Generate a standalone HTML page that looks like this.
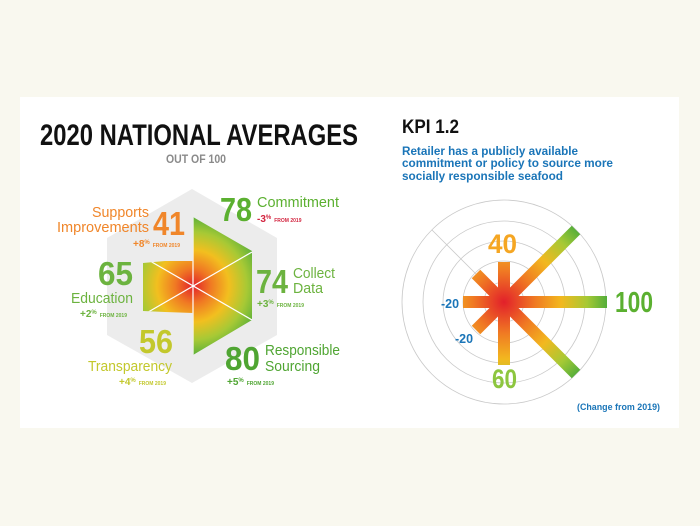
<!DOCTYPE html>
<html><head><meta charset="utf-8"><style>
html,body{margin:0;padding:0;background:#f9f8ef;}
svg{display:block;}
text{font-family:"Liberation Sans Narrow","Liberation Sans",sans-serif;font-weight:bold;}
.r{font-weight:normal;}
</style></head><body>
<svg width="700" height="526" viewBox="0 0 700 526" xmlns="http://www.w3.org/2000/svg">
<defs>
<radialGradient id="g1" cx="193" cy="286" r="72" gradientUnits="userSpaceOnUse">
<stop offset="0" stop-color="#e2202a"/>
<stop offset="0.25" stop-color="#f07a23"/>
<stop offset="0.5" stop-color="#f2bf1f"/>
<stop offset="0.75" stop-color="#a7c935"/>
<stop offset="1" stop-color="#4fac3a"/>
</radialGradient>
<radialGradient id="g2" cx="504" cy="302" r="104" gradientUnits="userSpaceOnUse">
<stop offset="0" stop-color="#e2202a"/>
<stop offset="0.3" stop-color="#f07a23"/>
<stop offset="0.55" stop-color="#f2b81f"/>
<stop offset="0.8" stop-color="#a6c935"/>
<stop offset="1" stop-color="#4fac3a"/>
</radialGradient>
<clipPath id="cp"><polygon points="193,217 252,251 252,320 193,355 193,313 165,312 143,311 143,263 165,261 193,261"/></clipPath>
</defs>
<rect x="20" y="97" width="659" height="331" fill="#fff"/>

<text x="40" y="145" font-size="30" textLength="318" lengthAdjust="spacingAndGlyphs" fill="#111">2020 NATIONAL AVERAGES</text>
<text x="166" y="163" font-size="12" textLength="60" lengthAdjust="spacingAndGlyphs" fill="#8a8a8a">OUT OF 100</text>
<polygon points="192,189 277,238 277,335 192,383 107,335 107,238" fill="#ececec"/>
<polygon points="193,217 252,251 252,320 193,355 193,313 165,312 143,311 143,263 165,261 193,261" fill="url(#g1)"/>
<g stroke="#fff" stroke-width="1.2" clip-path="url(#cp)">
<line x1="193" y1="217" x2="193" y2="355"/>
<line x1="252" y1="252" x2="138" y2="318"/>
<line x1="252" y1="320" x2="138" y2="254"/>
</g>

<text x="220" y="221" font-size="33" textLength="32" lengthAdjust="spacingAndGlyphs" fill="#5bb030">78</text>
<text class="r" x="257" y="207" font-size="15" textLength="82" lengthAdjust="spacingAndGlyphs" fill="#5bb030">Commitment</text>
<text x="257" y="222" font-size="10" fill="#d3243f">-3<tspan font-size="6" dy="-3">%</tspan><tspan font-size="5" dy="3" dx="3">FROM 2019</tspan></text>

<text x="153" y="235" font-size="33" textLength="32" lengthAdjust="spacingAndGlyphs" fill="#f0862a">41</text>
<text class="r" x="92" y="217" font-size="15" textLength="57" lengthAdjust="spacingAndGlyphs" fill="#f0862a">Supports</text>
<text class="r" x="57" y="232" font-size="15" textLength="92" lengthAdjust="spacingAndGlyphs" fill="#f0862a">Improvements</text>
<text x="133" y="247" font-size="10" fill="#f0862a">+8<tspan font-size="6" dy="-3">%</tspan><tspan font-size="5" dy="3" dx="3">FROM 2019</tspan></text>

<text x="98" y="285" font-size="33" textLength="35" lengthAdjust="spacingAndGlyphs" fill="#6cb33f">65</text>
<text class="r" x="71" y="303" font-size="15" textLength="62" lengthAdjust="spacingAndGlyphs" fill="#6cb33f">Education</text>
<text x="80" y="317" font-size="10" fill="#6cb33f">+2<tspan font-size="6" dy="-3">%</tspan><tspan font-size="5" dy="3" dx="3">FROM 2019</tspan></text>

<text x="256" y="293" font-size="33" textLength="32" lengthAdjust="spacingAndGlyphs" fill="#6cb33f">74</text>
<text class="r" x="293" y="278" font-size="15" textLength="42" lengthAdjust="spacingAndGlyphs" fill="#6cb33f">Collect</text>
<text class="r" x="293" y="293" font-size="15" textLength="30" lengthAdjust="spacingAndGlyphs" fill="#6cb33f">Data</text>
<text x="257" y="307" font-size="10" fill="#6cb33f">+3<tspan font-size="6" dy="-3">%</tspan><tspan font-size="5" dy="3" dx="3">FROM 2019</tspan></text>

<text x="139" y="353" font-size="33" textLength="34" lengthAdjust="spacingAndGlyphs" fill="#c3c82c">56</text>
<text class="r" x="88" y="371" font-size="15" textLength="84" lengthAdjust="spacingAndGlyphs" fill="#c3c82c">Transparency</text>
<text x="119" y="385" font-size="10" fill="#c3c82c">+4<tspan font-size="6" dy="-3">%</tspan><tspan font-size="5" dy="3" dx="3">FROM 2019</tspan></text>

<text x="225" y="370" font-size="33" textLength="35" lengthAdjust="spacingAndGlyphs" fill="#4fa532">80</text>
<text class="r" x="265" y="355" font-size="15" textLength="75" lengthAdjust="spacingAndGlyphs" fill="#4fa532">Responsible</text>
<text class="r" x="265" y="371" font-size="15" textLength="55" lengthAdjust="spacingAndGlyphs" fill="#4fa532">Sourcing</text>
<text x="227" y="385" font-size="10" fill="#4fa532">+5<tspan font-size="6" dy="-3">%</tspan><tspan font-size="5" dy="3" dx="3">FROM 2019</tspan></text>

<text x="402" y="133" font-size="19" textLength="57" lengthAdjust="spacingAndGlyphs" fill="#111">KPI 1.2</text>
<g font-size="12" fill="#1a75b8">
<text x="402" y="155" textLength="176" lengthAdjust="spacingAndGlyphs">Retailer has a publicly available</text>
<text x="402" y="167" textLength="211" lengthAdjust="spacingAndGlyphs">commitment or policy to source more</text>
<text x="402" y="180" textLength="161" lengthAdjust="spacingAndGlyphs">socially responsible seafood</text>
</g>
<g fill="none" stroke="#c9c9c9" stroke-width="0.8">
<circle cx="504" cy="302" r="102"/>
<circle cx="504" cy="302" r="81"/>
<circle cx="504" cy="302" r="61"/>
<circle cx="504" cy="302" r="41"/>
<circle cx="504" cy="302" r="20"/>
<line x1="504" y1="302" x2="432" y2="230"/>
</g>
<g stroke="url(#g2)" stroke-width="12">
<line x1="504" y1="302" x2="504" y2="262"/>
<line x1="504" y1="302" x2="504" y2="365"/>
<line x1="504" y1="302" x2="607" y2="302"/>
<line x1="504" y1="302" x2="463" y2="302"/>
<line x1="504" y1="302" x2="576" y2="230"/>
<line x1="504" y1="302" x2="576" y2="374"/>
<line x1="504" y1="302" x2="476" y2="274"/>
<line x1="504" y1="302" x2="476" y2="330"/>
</g>
<text x="488" y="253" font-size="27" textLength="29" lengthAdjust="spacingAndGlyphs" fill="#f5a623">40</text>
<text x="615" y="312" font-size="29" textLength="38" lengthAdjust="spacingAndGlyphs" fill="#5bb030">100</text>
<text x="492" y="388" font-size="27" textLength="25" lengthAdjust="spacingAndGlyphs" fill="#8dc63f">60</text>
<text x="441" y="308" font-size="13" textLength="18" lengthAdjust="spacingAndGlyphs" fill="#1a75b8">-20</text>
<text x="455" y="343" font-size="13" textLength="18" lengthAdjust="spacingAndGlyphs" fill="#1a75b8">-20</text>
<text x="577" y="410" font-size="9" textLength="83" lengthAdjust="spacingAndGlyphs" fill="#1a75b8">(Change from 2019)</text>
</svg>
</body></html>
